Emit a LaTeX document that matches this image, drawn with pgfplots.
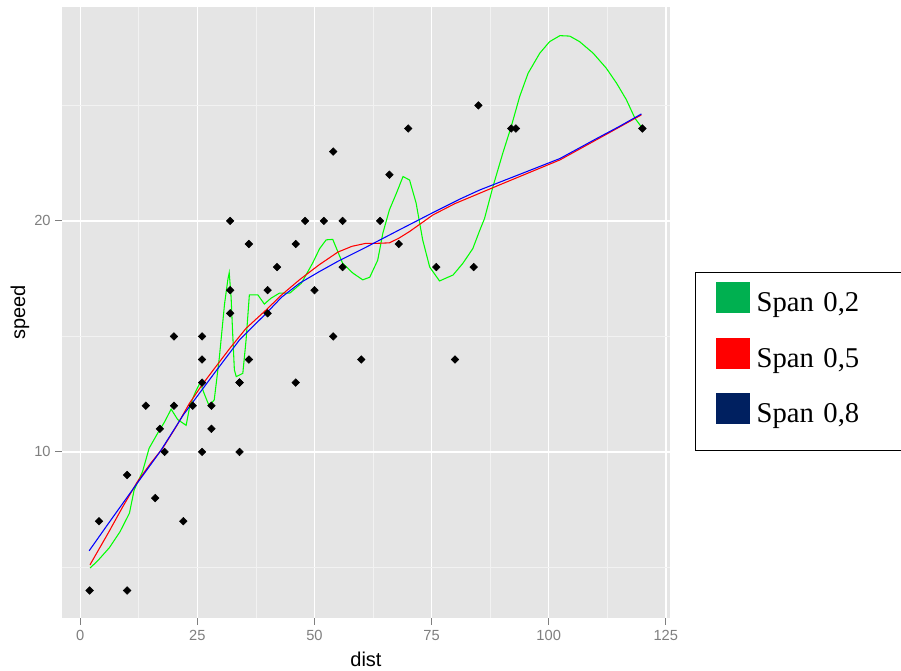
\documentclass[border=0pt]{standalone}
\usepackage{pgfplots}
\pgfplotsset{compat=1.18}
\usepackage{fontspec}
\setmainfont{Liberation Sans}
\newfontfamily\legfont{Liberation Serif}
\definecolor{panelbg}{HTML}{E5E5E5}
\definecolor{minorgrid}{HTML}{F2F2F2}
\definecolor{tickgrey}{HTML}{7F7F7F}
\definecolor{lgreen}{HTML}{00B050}
\definecolor{lred}{HTML}{FF0000}
\definecolor{lnavy}{HTML}{002060}
\definecolor{cgreen}{HTML}{00FF00}
\definecolor{cred}{HTML}{FF0000}
\definecolor{cblue}{HTML}{0000FF}

\pgfplotstableread{
dist speed
2 4
10 4
4 7
22 7
16 8
10 9
18 10
26 10
34 10
17 11
28 11
14 12
20 12
24 12
28 12
26 13
34 13
34 13
46 13
26 14
36 14
60 14
80 14
20 15
26 15
54 15
32 16
40 16
32 17
40 17
50 17
42 18
56 18
76 18
84 18
36 19
46 19
68 19
32 20
48 20
52 20
56 20
64 20
66 22
54 23
70 24
92 24
93 24
120 24
85 25
}\carsdata

\pgfplotstableread{
x y
2.1 4.97
4 5.35
6.2 5.85
8.5 6.55
10.5 7.35
11.5 8.35
13.3 9.15
14.7 10.16
16.5 10.8
18 11.3
19.4 11.85
20.8 11.4
22.6 11.15
23.4 12.0
24.6 12.6
25.6 13.0
26.5 12.5
27.5 12.0
28.6 12.25
29.7 14.1
30.8 16.4
31.5 17.45
31.8 17.76
32.2 16.7
32.5 15.3
32.9 13.55
33.3 13.26
34.7 13.4
35.4 14.85
36.1 16.8
37.9 16.8
39.3 16.4
40.7 16.65
42.5 16.87
44.7 16.87
47.2 17.3
49.6 18.17
51.1 18.8
52.5 19.18
53.9 19.2
56.0 18.17
58.2 17.74
60.3 17.45
61.8 17.56
63.5 18.3
64.6 19.47
66.0 20.48
67.5 21.2
68.9 21.92
70.3 21.77
71.7 20.77
73.1 19.18
74.6 18.0
76.7 17.4
79.6 17.66
81.7 18.17
83.8 18.8
85.3 19.6
86.3 20.1
88.1 21.48
90.2 22.93
92.0 24.08
93.8 25.38
95.6 26.39
98.1 27.26
100.2 27.76
102.4 28.02
104.5 28.0
106.6 27.76
109.5 27.26
112.3 26.61
114.5 25.96
116.6 25.24
118.4 24.45
120 24.01
}\spantwo

\pgfplotstableread{
x y
2.07 5.11
6 6.5
9 7.6
12.2 8.71
15 9.5
17.6 10.16
20.5 11.1
23.3 12.1
26 12.9
28.6 13.6
32 14.5
35.4 15.35
39.7 16.15
43 16.8
46.8 17.45
51 18.1
55.0 18.65
58 18.9
61 19.03
63.5 19.03
66 19.05
68 19.25
70.3 19.54
72.8 19.9
75.3 20.26
80 20.75
85.3 21.2
90 21.6
95 22.02
102.4 22.64
110 23.49
115 24.05
119.8 24.59
}\spanfive

\pgfplotstableread{
x y
1.9 5.72
6 6.9
9 7.75
12 8.6
17 10.0
22 11.6
28.6 13.4
34 14.85
39.7 16.0
43 16.7
46.8 17.3
51 17.8
55 18.25
61 18.86
68 19.6
75.3 20.36
81 20.94
85.3 21.34
93 21.95
102.4 22.7
110 23.54
115 24.08
119.8 24.63
}\spaneight

\begin{document}
\begin{tikzpicture}
\useasboundingbox[fill=white] (0,0) rectangle (675.75pt,503.25pt);
\begin{axis}[
  at={(46.5pt,39.75pt)}, anchor=south west,
  scale only axis, width=456pt, height=458.25pt,
  xmin=-3.9, xmax=125.9, ymin=2.81, ymax=29.26,
  axis background/.style={fill=panelbg},
  axis line style={draw=none},
  xtick={0,25,50,75,100,125},
  minor xtick={12.5,37.5,62.5,87.5,112.5},
  ytick={10,20},
  minor ytick={5,15,25},
  grid=both,
  major grid style={white, line width=1.1pt},
  minor grid style={minorgrid, line width=0.6pt},
  tick align=outside,
  xtick pos=bottom, ytick pos=left,
  major tick length=5pt, minor tick length=0pt,
  tick style={tickgrey, line width=0.8pt},
  /pgf/number format/assume math mode=true,
  ticklabel style={font=\fontsize{11}{13}\selectfont, text=tickgrey},
  xticklabel style={yshift=-1pt},
  xlabel={dist}, ylabel={speed},
  label style={font=\fontsize{15}{18}\selectfont, text=black},
  xlabel style={at={(axis description cs:0.5,-0.0802)}, anchor=base},
  ylabel style={at={(axis description cs:-0.0691,0.5)}, anchor=center},
  legend style={at={(1.0411,0.5668)}, anchor=north west,
    draw=black, line width=0.8pt, fill=white,
    inner xsep=15pt, inner ysep=7.5pt, row sep=18.2pt, column sep=5.25pt,
    cells={anchor=base west},
    nodes={inner sep=0pt, text depth=0pt, font=\legfont\fontsize{21.5}{25}\selectfont}},
]
\addplot[only marks, mark=square*, mark size=2pt, mark options={rotate=45, fill=black, draw=black}, forget plot] table[x=dist, y=speed] {\carsdata};
\addplot[cgreen, line width=0.8pt, forget plot] table[x=x, y=y] {\spantwo};
\addplot[cred, line width=0.8pt, forget plot] table[x=x, y=y] {\spanfive};
\addplot[cblue, line width=0.8pt, forget plot] table[x=x, y=y] {\spaneight};
\addlegendimage{legend image code/.code={\fill[lgreen] (0pt,-0.75pt) rectangle (24.75pt,21.75pt);}}
\addlegendentry[text width=93.5pt]{Span 0,2}
\addlegendimage{legend image code/.code={\fill[lred] (0pt,-0.75pt) rectangle (24.75pt,21.75pt);}}
\addlegendentry[text width=93.5pt]{Span 0,5}
\addlegendimage{legend image code/.code={\fill[lnavy] (0pt,-0.75pt) rectangle (24.75pt,21.75pt);}}
\addlegendentry[text width=93.5pt, text depth=13.5pt]{Span 0,8}
\end{axis}
\end{tikzpicture}
\end{document}
